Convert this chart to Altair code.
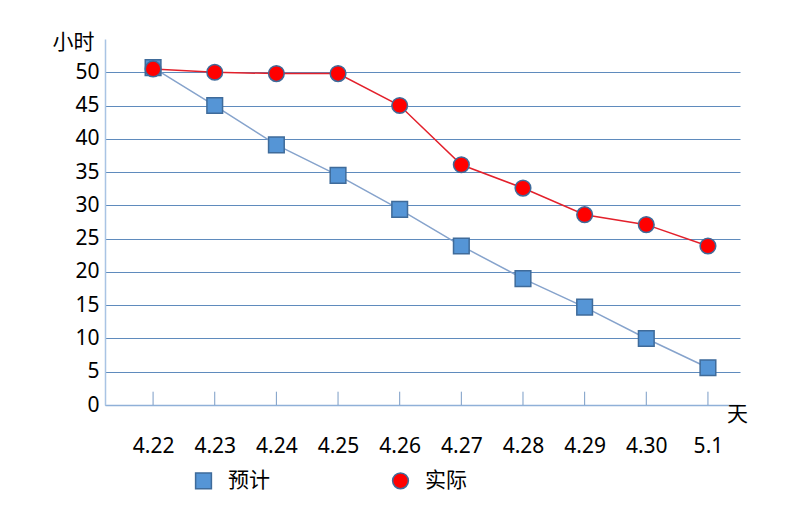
import altair as alt
import pandas as pd

days = ["4.22", "4.23", "4.24", "4.25", "4.26", "4.27", "4.28", "4.29", "4.30", "5.1"]
planned = [50.7, 45.0, 39.1, 34.5, 29.4, 23.9, 19.0, 14.7, 10.0, 5.6]
actual = [50.5, 50.0, 49.8, 49.8, 45.0, 36.1, 32.6, 28.6, 27.1, 23.9]
series_names = ["预计", "实际"]
y_ticks = [0, 5, 10, 15, 20, 25, 30, 35, 40, 45, 50]

rows = []
for i, (d, p, a) in enumerate(zip(days, planned, actual)):
    rows.append({"idx": i, "day": d, "series": series_names[0], "value": p})
    rows.append({"idx": i, "day": d, "series": series_names[1], "value": a})
df = pd.DataFrame(rows)
ticks_df = pd.DataFrame({"idx": list(range(len(days))), "day": days})

FONT = "Noto Sans, Noto Sans CJK SC, sans-serif"
label_expr = "[" + ",".join("'" + d + "'" for d in days) + "][datum.value]"

xscale = alt.Scale(domain=[-0.78, 9.52], nice=False, zero=False)
yscale = alt.Scale(domain=[0, 55], nice=False)

x_axis = alt.Axis(
    values=list(range(len(days))),
    labelExpr=label_expr,
    title="天",
    titleAngle=0,
    titleX=632,
    titleY=9,
    titleBaseline="middle",
    titleAlign="center",
    titleFontWeight="normal",
    titleFontSize=21,
    titleFont=FONT,
    titleColor="#000000",
    labelAngle=0,
    labelFontSize=21,
    labelFont=FONT,
    labelColor="#000000",
    labelPadding=30,
    labelFlush=False,
    labelOverlap=False,
    ticks=False,
    domainColor="#8fb0d8",
    domainWidth=1.5,
    grid=False,
)
y_axis = alt.Axis(
    values=y_ticks,
    title="小时",
    titleAngle=0,
    titleX=-32,
    titleY=3,
    titleBaseline="middle",
    titleAlign="center",
    titleFontWeight="normal",
    titleFontSize=21,
    titleFont=FONT,
    titleColor="#000000",
    labelFontSize=21,
    labelFont=FONT,
    labelColor="#000000",
    labelPadding=6,
    labelOverlap=False,
    labelFlush=False,
    ticks=False,
    domainColor="#a9c4e4",
    domainWidth=1.5,
    grid=True,
    gridColor="#5f8bbd",
    gridWidth=1,
)

X = alt.X("idx:Q", scale=xscale, axis=x_axis)
Y = alt.Y("value:Q", scale=yscale, axis=y_axis)

base = alt.Chart(df)

line_planned = base.transform_filter(
    alt.datum.series == series_names[0]
).mark_line(strokeWidth=1.5, color="#86a3cc").encode(x=X, y=Y)

line_actual = base.transform_filter(
    alt.datum.series == series_names[1]
).mark_line(strokeWidth=1.5, color="#e3202b").encode(x=X, y=Y)

points = base.mark_point(
    filled=True, opacity=1, stroke="#3f6b9a", strokeWidth=1.5, size=245
).encode(
    x=X,
    y=Y,
    fill=alt.Fill(
        "series:N",
        scale=alt.Scale(domain=series_names, range=["#5595d6", "#ff0000"]),
        legend=alt.Legend(
            title=None,
            orient="none",
            legendX=88,
            legendY=431,
            direction="horizontal",
            columnPadding=119,
            labelFontSize=21,
            labelFont=FONT,
            labelColor="#000000",
            labelOffset=14,
            symbolSize=250,
            symbolStrokeColor="#3f6b9a",
            symbolStrokeWidth=1.5,
        ),
    ),
    shape=alt.Shape(
        "series:N",
        scale=alt.Scale(domain=series_names, range=["square", "circle"]),
    ),
)

tick_marks = alt.Chart(ticks_df).mark_rule(color="#7a9cc6", strokeWidth=1).encode(
    x=X,
    y=alt.Y(datum=0, scale=yscale, axis=y_axis),
    y2=alt.Y2(datum=2),
)

chart = (
    alt.layer(line_planned, line_actual, tick_marks, points)
    .properties(
        width=635,
        height=366,
        padding={"left": 105, "top": 39, "right": 62, "bottom": 107},
        autosize=alt.AutoSizeParams(type="none"),
        background="#ffffff",
    )
    .configure_view(stroke=None)
)

chart.save("out.html", embed_options={"renderer": "svg", "actions": False})
